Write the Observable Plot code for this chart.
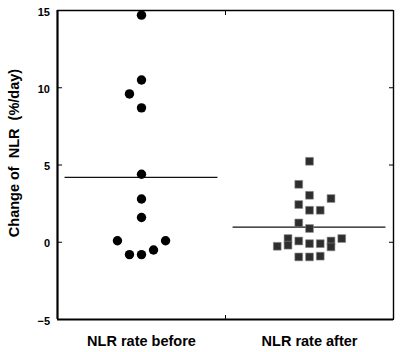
<!DOCTYPE html>
<html>
<head>
<meta charset="utf-8">
<script src="https://cdn.jsdelivr.net/npm/d3@7"></script>
<script src="https://cdn.jsdelivr.net/npm/@observablehq/plot@0.6"></script>
<style>
  html, body { margin: 0; padding: 0; background: #fff; }
  svg text { white-space: pre; }
</style>
</head>
<body>
<div id="chart"></div>
<script>
// ---- data ----
const categories = ["NLR rate before", "NLR rate after"];
const yTicks = [-5, 0, 5, 10, 15];
const yLabel = "Change of  NLR  (%/day)";

const beforeValues = [14.7, 10.5, 9.6, 8.7, 4.4, 2.8, 1.6, 0.1, -0.8, -0.8, -0.5, 0.1];
const beforeSlots  = [0, 0, -1, 0, 0, 0, 0, -2, -1, 0, 1, 2];

const afterValues = [5.24, 3.75, 3.04, 2.83, 2.44, 2.07, 2.07, 1.25, 0.89, 0.24, -0.19, 0.08, -0.09, -0.09, 0.08, -0.3, 0.24, -0.26, -0.95, -0.95, -0.9];
const afterSlots  = [0, -1, 0, 2, -1, 0, 1, -1, 0, -2, -2, -1, 0, 1, 2, 2, 3, -3, -1, 0, 1];

// ---- styling constants ----
const slotBefore = 0.0716;
const slotAfter = 0.064;
const meanHalf = 0.455;

const before = beforeValues.map((v, i) => ({cat: 1, x: 1 + beforeSlots[i] * slotBefore, y: v}));
const after = afterValues.map((v, i) => ({cat: 2, x: 2 + afterSlots[i] * slotAfter, y: v}));
const means = [
  {cat: 1, y: d3.mean(beforeValues)},
  {cat: 2, y: d3.mean(afterValues)}
];

const chart = Plot.plot({
  width: 400,
  height: 352,
  marginLeft: 57,
  marginRight: 7,
  marginTop: 10,
  marginBottom: 33,
  style: {fontFamily: "'Liberation Sans', Arial, sans-serif", color: "#000", background: "#fff"},
  x: {type: "linear", domain: [0.5, 2.5], axis: null},
  y: {domain: [-5, 15], axis: null},
  marks: [
    Plot.axisY({ticks: yTicks, tickSize: 0, tickPadding: 7.5, dy: 1.5, fontSize: 11, fontWeight: "bold", label: null}),
    Plot.axisY({ticks: yTicks, tickSize: -5, tickFormat: () => "", label: null}),
    Plot.axisY({anchor: "right", ticks: yTicks, tickSize: -5, tickFormat: () => "", label: null}),
    Plot.axisX({anchor: "top", ticks: [1.5], tickSize: -4, tickFormat: () => "", label: null}),
    Plot.axisX({anchor: "bottom", ticks: [1.5], tickSize: -4, tickFormat: () => "", label: null}),
    Plot.axisX({anchor: "bottom", ticks: [1, 2], tickSize: 0, tickPadding: 16, fontSize: 14.5, fontWeight: "bold",
      tickFormat: (d) => categories[Math.round(d) - 1], label: null}),
    Plot.ruleX([0.5], {strokeWidth: 2.2}),
    Plot.ruleY([-5], {strokeWidth: 2.2}),
    Plot.ruleX([2.5], {strokeWidth: 1.4}),
    Plot.ruleY([15], {strokeWidth: 1.4}),
    Plot.text([yLabel], {frameAnchor: "left", textAnchor: "middle", rotate: -90, dx: -43, dy: -12, fontSize: 14.5, fontWeight: "bold"}),
    Plot.ruleY(means, {y: "y", x1: (d) => d.cat - meanHalf, x2: (d) => d.cat + meanHalf, stroke: "#111", strokeWidth: 1.2}),
    Plot.dot(before, {x: "x", y: "y", r: 4.7, fill: "#000", stroke: "none"}),
    Plot.dot(after, {x: "x", y: "y", r: 4.4, symbol: "square", fill: "#2e2e2e", stroke: "#888", strokeWidth: 0.6})
  ]
});
document.getElementById("chart").appendChild(chart);
</script>
</body>
</html>
